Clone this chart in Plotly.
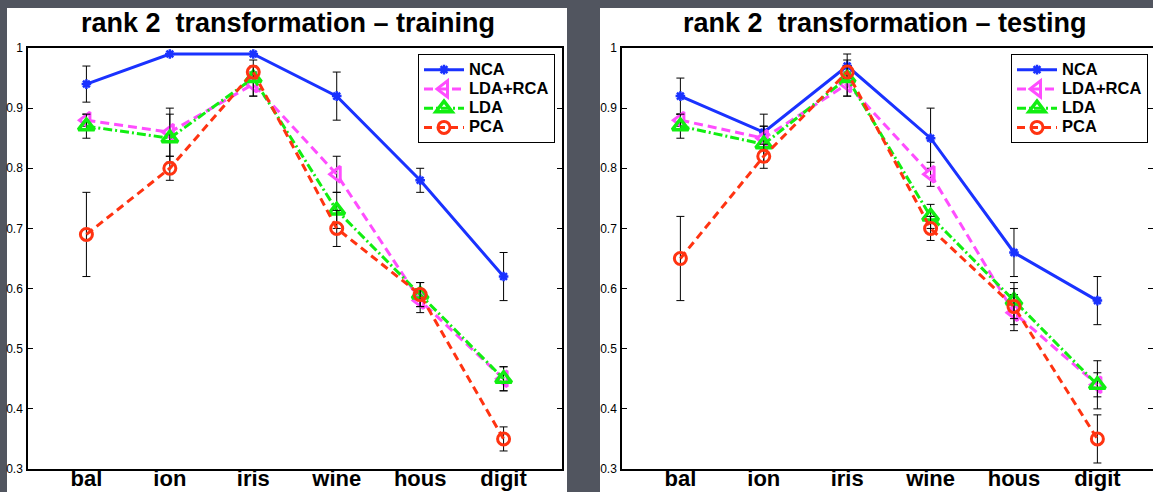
import plotly.graph_objects as go

# Datasets on the x axis
categories = ["bal", "ion", "iris", "wine", "hous", "digit"]
y_ticks = [0.3, 0.4, 0.5, 0.6, 0.7, 0.8, 0.9, 1.0]
y_tick_text = ["0.3", "0.4", "0.5", "0.6", "0.7", "0.8", "0.9", "1"]
methods = ["NCA", "LDA+RCA", "LDA", "PCA"]

# Training accuracy (mean and error half-width)
train_nca = [0.94, 0.99, 0.99, 0.92, 0.78, 0.62]
train_nca_err = [0.03, 0.0, 0.0, 0.04, 0.02, 0.04]
train_ldarca = [0.88, 0.86, 0.94, 0.79, 0.58, 0.45]
train_ldarca_err = [0.01, 0.04, 0.02, 0.03, 0.02, 0.02]
train_lda = [0.87, 0.85, 0.95, 0.73, 0.59, 0.45]
train_lda_err = [0.02, 0.04, 0.03, 0.03, 0.02, 0.02]
train_pca = [0.69, 0.80, 0.96, 0.70, 0.59, 0.35]
train_pca_err = [0.07, 0.02, 0.01, 0.03, 0.02, 0.02]

# Testing accuracy (mean and error half-width)
test_nca = [0.92, 0.86, 0.97, 0.85, 0.66, 0.58]
test_nca_err = [0.03, 0.03, 0.02, 0.05, 0.04, 0.04]
test_ldarca = [0.88, 0.85, 0.94, 0.79, 0.56, 0.44]
test_ldarca_err = [0.01, 0.02, 0.02, 0.02, 0.03, 0.02]
test_lda = [0.87, 0.84, 0.95, 0.72, 0.58, 0.44]
test_lda_err = [0.02, 0.03, 0.03, 0.02, 0.03, 0.04]
test_pca = [0.65, 0.82, 0.96, 0.70, 0.57, 0.35]
test_pca_err = [0.07, 0.02, 0.01, 0.02, 0.03, 0.04]

W, H = 1153, 492
FONT = "Liberation Sans, Arial, sans-serif"
xpos = list(range(1, len(categories) + 1))

styles = {
    "NCA": dict(color="#1a32ff", dash="solid",
                marker=dict(symbol="asterisk-open", size=8,
                            line=dict(width=2.5, color="#1a32ff"))),
    "LDA+RCA": dict(color="#ff4dff", dash="9px,5px",
                    marker=dict(symbol="triangle-left-open", size=14,
                                line=dict(width=3, color="#ff4dff"))),
    "LDA": dict(color="#11ee11", dash="9px,3px,2px,3px",
                marker=dict(symbol="triangle-up-open", size=14,
                            line=dict(width=3.5, color="#11ee11"))),
    "PCA": dict(color="#ff3311", dash="8px,5px",
                marker=dict(symbol="circle-open", size=12,
                            line=dict(width=3, color="#ff3311"))),
}

panels = [
    ("x", "y", "legend", zip(methods,
                             [train_nca, train_ldarca, train_lda, train_pca],
                             [train_nca_err, train_ldarca_err, train_lda_err, train_pca_err])),
    ("x2", "y2", "legend2", zip(methods,
                                [test_nca, test_ldarca, test_lda, test_pca],
                                [test_nca_err, test_ldarca_err, test_lda_err, test_pca_err])),
]

fig = go.Figure()
for xa, ya, lg, series in panels:
    for name, vals, errs in series:
        st = styles[name]
        fig.add_trace(go.Scatter(
            x=xpos, y=vals, xaxis=xa, yaxis=ya, legend=lg,
            # larger label text inside a compact legend row
            name=f"<span style='font-size:16.5px'>{name}</span>",
            mode="lines+markers",
            line=dict(color=st["color"], width=3, dash=st["dash"]),
            marker=st["marker"],
            error_y=dict(type="data", array=errs, visible=True,
                         color="black", thickness=1, width=4),
        ))

ydom = [(H - 469) / H, (H - 48) / H]

xcommon = dict(range=[0.3, 6.7], tickvals=xpos, ticktext=categories,
               showgrid=False, zeroline=False, showline=True, linecolor="black",
               linewidth=2, mirror=True, ticks="", ticklen=0, automargin=False,
               tickfont=dict(size=22, family=FONT, color="black", weight="bold"),
               ticklabelstandoff=-11)
ycommon = dict(range=[0.3, 1.0], tickvals=y_ticks, ticktext=y_tick_text,
               showgrid=False, zeroline=False, showline=True, linecolor="black",
               linewidth=1.5, mirror="ticks", ticks="inside", ticklen=5,
               tickcolor="black", automargin=False,
               tickfont=dict(size=12, family=FONT, color="black"),
               ticklabelstandoff=1)

legend_common = dict(yanchor="top", xanchor="right", y=(H - 54) / H,
                     bgcolor="white", bordercolor="black", borderwidth=1,
                     font=dict(size=12.5, family=FONT, color="black", weight="bold"),
                     itemwidth=40, tracegroupgap=0)

title_font = dict(size=27, family=FONT, color="black")

fig.update_layout(
    width=W, height=H,
    margin=dict(l=0, r=0, t=0, b=0, autoexpand=False),
    paper_bgcolor="#51555f",
    plot_bgcolor="white",
    xaxis=dict(domain=[28 / W, 562 / W], anchor="y", **xcommon),
    yaxis=dict(domain=ydom, anchor="x", **ycommon),
    xaxis2=dict(domain=[622 / W, 1.0], anchor="y2",
                **{**xcommon, "range": [0.3, 0.3 + 531 / 83.4]}),
    yaxis2=dict(domain=ydom, anchor="x2", **ycommon),
    legend=dict(x=555 / W, **legend_common),
    legend2=dict(x=1148 / W, **legend_common),
    showlegend=True,
    shapes=[
        dict(type="rect", xref="paper", yref="paper", layer="below",
             x0=7 / W, x1=567 / W, y0=0, y1=(H - 8) / H,
             fillcolor="white", line=dict(width=0)),
        dict(type="rect", xref="paper", yref="paper", layer="below",
             x0=600 / W, x1=1.0, y0=0, y1=(H - 8) / H,
             fillcolor="white", line=dict(width=0)),
    ],
    annotations=[
        dict(text="<b>rank 2\u00a0 transformation – training</b>", xref="paper",
             yref="paper", x=288 / W, y=(H - 23) / H, xanchor="center",
             yanchor="middle", showarrow=False, font=title_font),
        dict(text="<b>rank 2\u00a0 transformation – testing</b>", xref="paper",
             yref="paper", x=885 / W, y=(H - 23) / H, xanchor="center",
             yanchor="middle", showarrow=False, font=title_font),
    ],
)

fig.write_html("out.html")
